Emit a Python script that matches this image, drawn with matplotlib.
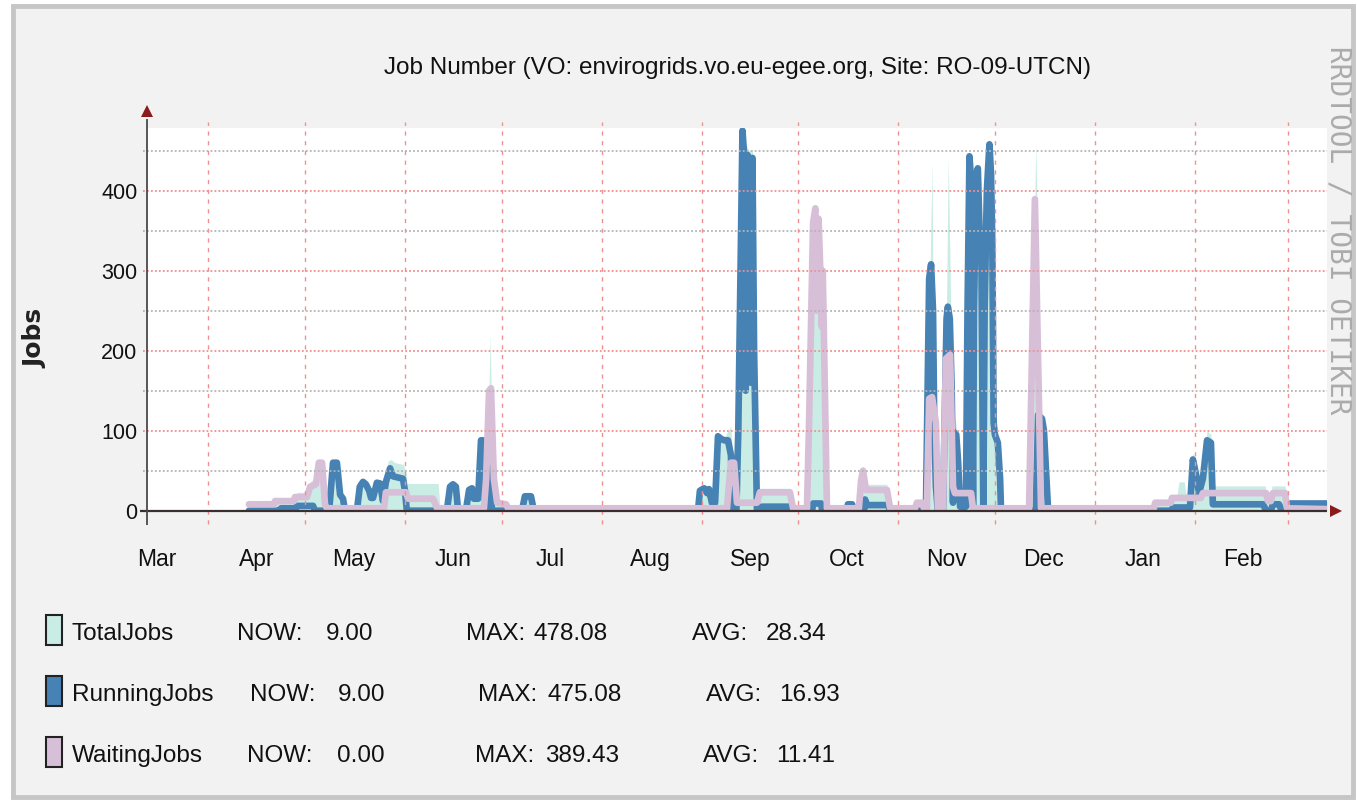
import datetime as dt
import matplotlib
matplotlib.use('Agg')
import matplotlib.pyplot as plt
import matplotlib.dates as mdates
from matplotlib.patches import Rectangle

plt.rcParams['font.family'] = ['Liberation Sans', 'DejaVu Sans']

# ---- data: (day counted from the left edge of the graph, jobs) ----
start = dt.datetime(2011, 3, 13)
n_days = 366

total = [(31.6, 8), (39.4, 8), (39.7, 12), (41.3, 12), (41.6, 15), (46.2, 15), (46.5, 23), (49.6, 23),
         (50.6, 36), (51.5, 39), (52.1, 33), (53.3, 60), (54.3, 62), (55.2, 8), (55.8, 3), (56.5, 3),
         (57.7, 63), (58.9, 63), (59.9, 23), (60.8, 18), (61.4, 3), (65.1, 3), (66.1, 33), (67.0, 39),
         (67.9, 36), (68.9, 28), (69.5, 19), (70.1, 19), (71.3, 38), (72.3, 37), (73.2, 15), (73.8, 40),
         (74.8, 62), (75.7, 64), (76.9, 60), (79.4, 58), (80.3, 50), (80.6, 34), (90.3, 34), (90.9, 3),
         (93.0, 3), (94.0, 33), (94.9, 36), (95.8, 33), (96.5, 3), (98.9, 3), (99.9, 29), (100.8, 31),
         (101.4, 18), (102.7, 18), (103.6, 91), (104.2, 91), (104.8, 3), (105.2, 40), (106.1, 150),
         (106.4, 222), (106.7, 160), (107.6, 40), (108.6, 10), (111.4, 8), (112.0, 3), (116.3, 3),
         (117.2, 21), (119.1, 21), (120.0, 3), (170.9, 3), (171.5, 28), (172.8, 31), (173.7, 25),
         (174.3, 30), (175.2, 13), (176.2, 13), (177.1, 96), (178.0, 93), (179.0, 91), (180.2, 100),
         (181.1, 105), (181.8, 62), (183.0, 10), (183.4, 105), (184.7, 478.1), (185.5, 460), (186.7, 450),
         (187.8, 451), (188.3, 210), (189.2, 10), (190.1, 28), (199.4, 28), (200.4, 3), (204.7, 3),
         (206.6, 300), (207.3, 378), (208.1, 370), (208.8, 315), (209.6, 299), (210.9, 3), (217.1, 3),
         (217.4, 11), (218.7, 11), (219.0, 3), (220.8, 3), (221.5, 45), (222.1, 56), (223.0, 33),
         (229.5, 33), (230.5, 3), (238.2, 3), (238.8, 10), (240.4, 10), (241.0, 3), (241.6, 3),
         (242.9, 300), (243.5, 438), (243.8, 250), (244.7, 140), (245.3, 3), (246.9, 3), (248.1, 290),
         (248.5, 442), (249.1, 300), (250.0, 40), (250.6, 120), (251.6, 82), (252.2, 27), (254.0, 27),
         (255.1, 446), (256.2, 27), (257.7, 431), (258.7, 340), (259.4, 10), (261.3, 461), (262.1, 335),
         (263.0, 100), (264.0, 88), (264.9, 3), (273.6, 3), (275.4, 395), (275.7, 460), (276.4, 300),
         (277.3, 120), (277.6, 118), (278.2, 103), (279.5, 3), (312.3, 3), (312.7, 10), (317.6, 10),
         (317.9, 16), (318.2, 20), (319.5, 20), (320.1, 36), (321.7, 36), (322.3, 20), (323.5, 20),
         (324.4, 72), (325.4, 62), (326.3, 40), (327.5, 62), (328.8, 100), (330.0, 95), (330.6, 31),
         (346.8, 31), (347.7, 12), (348.6, 12), (348.9, 31), (353.0, 31), (353.6, 12), (366.0, 12)]

running = [(31.6, 0), (40.9, 0), (41.6, 3), (46.2, 3), (46.5, 6), (51.5, 6), (52.1, 0), (56.5, 0),
           (57.7, 60), (58.9, 60), (59.9, 20), (60.8, 15), (61.4, 0), (65.1, 0), (66.0, 30), (67.0, 36),
           (67.9, 33), (68.9, 25), (69.5, 16), (70.1, 16), (71.3, 35), (72.3, 34), (73.2, 12), (74.1, 36),
           (75.4, 53), (76.3, 43), (79.4, 40), (80.0, 25), (80.6, 0), (93.0, 0), (94.0, 30), (94.9, 33),
           (95.8, 30), (96.5, 0), (98.9, 0), (99.9, 26), (100.8, 28), (101.4, 15), (102.7, 15),
           (103.6, 88), (104.2, 88), (104.8, 0), (105.8, 0), (106.4, 60), (107.0, 0), (116.3, 0),
           (117.2, 18), (119.1, 18), (120.0, 0), (170.9, 0), (171.5, 25), (172.8, 28), (173.7, 22),
           (174.3, 27), (175.2, 10), (176.2, 10), (177.1, 93), (178.0, 90), (179.0, 88), (180.2, 88),
           (181.1, 70), (181.8, 3), (182.8, 0), (183.4, 100), (184.7, 475.1), (185.2, 445), (185.7, 150),
           (186.2, 445), (186.8, 440), (187.3, 160), (187.8, 441), (188.3, 200), (189.2, 0), (190.8, 5),
           (199.4, 5), (200.1, 0), (206.3, 0), (206.6, 9), (209.1, 9), (209.4, 0), (217.1, 0), (217.4, 8),
           (218.7, 8), (219.0, 0), (222.4, 0), (222.7, 14), (223.3, 7), (229.8, 7), (230.5, 0),
           (241.6, 0), (242.6, 290), (243.2, 308), (243.8, 250), (244.2, 100), (244.7, 30), (245.3, 0),
           (246.9, 0), (248.0, 240), (248.4, 255), (249.0, 240), (249.6, 150), (250.0, 10), (250.3, 98),
           (251.0, 95), (251.6, 60), (252.2, 5), (254.0, 5), (254.5, 250), (255.1, 443), (255.5, 420),
           (255.9, 200), (256.2, 5), (256.5, 250), (257.2, 420), (257.7, 428), (258.3, 340), (258.8, 322),
           (259.1, 150), (259.4, 5), (259.8, 250), (260.5, 400), (261.3, 458), (261.8, 420), (262.2, 330),
           (262.6, 110), (263.0, 95), (263.9, 85), (264.6, 40), (264.9, 0), (275.7, 0), (276.4, 120),
           (277.6, 115), (278.2, 100), (279.5, 0), (317.9, 0), (318.2, 4), (323.5, 4), (324.4, 64),
           (325.4, 45), (326.3, 22), (327.5, 40), (328.8, 88), (330.0, 85), (330.6, 8), (346.2, 8),
           (347.1, 0), (348.6, 0), (349.2, 8), (351.1, 8), (352.0, 0), (354.2, 0), (354.5, 9), (366.0, 9)]

waiting = [(31.6, 8), (39.4, 8), (39.7, 12), (45.6, 12), (45.9, 17), (49.6, 17), (50.6, 30), (52.4, 33),
           (53.3, 60), (54.3, 60), (55.2, 8), (55.8, 3), (73.5, 3), (74.1, 23), (80.3, 23), (81.0, 15),
           (88.7, 15), (90.0, 3), (104.5, 3), (105.2, 40), (106.1, 150), (106.7, 153), (107.6, 40),
           (108.6, 10), (111.4, 8), (112.0, 3), (179.9, 3), (181.1, 60), (182.1, 60), (183.0, 10),
           (189.2, 10), (190.1, 23), (199.4, 23), (200.4, 3), (204.7, 3), (205.3, 100), (206.6, 360),
           (207.3, 378), (207.8, 250), (208.3, 365), (208.8, 305), (209.3, 230), (209.6, 300), (210.9, 3),
           (220.8, 3), (221.5, 38), (222.1, 50), (223.0, 26), (229.5, 26), (230.5, 3), (238.2, 3),
           (238.8, 10), (240.4, 10), (241.0, 3), (241.9, 3), (242.6, 140), (243.5, 142), (244.7, 110),
           (245.3, 3), (246.9, 3), (247.8, 190), (249.1, 195), (250.0, 30), (250.6, 22), (255.6, 22),
           (256.2, 3), (273.6, 3), (275.4, 389.4), (277.3, 3), (312.3, 3), (312.7, 10), (317.6, 10),
           (317.9, 16), (326.9, 16), (327.5, 22), (347.1, 22), (347.7, 12), (348.6, 12), (349.2, 22),
           (353.0, 22), (353.6, 3), (366.0, 2)]

legend_names = ['TotalJobs', 'RunningJobs', 'WaitingJobs']
legend_now = [9.00, 9.00, 0.00]
legend_max = [478.08, 475.08, 389.43]
legend_avg = [28.34, 16.93, 11.41]

title = 'Job Number (VO: envirogrids.vo.eu-egee.org, Site: RO-09-UTCN)'

c_total = '#c9ece4'
c_running = '#4682b4'
c_waiting = '#d8bfd8'
c_major = '#f09090'
c_minor = '#b4b4b4'
line_w = 4.8


def split(series):
    days, vals = zip(*series)
    return [start + dt.timedelta(days=d) for d in days], list(vals)


W, H = 1357, 800
fig = plt.figure(figsize=(W / 100, H / 100), dpi=100, facecolor='white')

# rrdtool style frame
fig.patches.append(Rectangle((13 / W, 3 / H), 1340 / W, 791 / H, transform=fig.transFigure,
                             facecolor='#f2f2f2', edgecolor='#c6c6c6', lw=3.5, zorder=-5))

ax = fig.add_axes([147 / W, 1 - 510.7 / H, 1180 / W, 382.7 / H])
ax.set_zorder(1)
ax.set_facecolor('white')
for s in ax.spines.values():
    s.set_visible(False)

end = start + dt.timedelta(days=n_days)
ax.set_xlim(start, end)
ax.set_ylim(0, 478.4)

x, y = split(total)
ax.fill_between(x, y, color=c_total, lw=0, zorder=2)
x, y = split(running)
ax.plot(x, y, color=c_running, lw=line_w, solid_joinstyle='round', solid_capstyle='round', zorder=3)
x, y = split(waiting)
ax.plot(x, y, color=c_waiting, lw=line_w, solid_joinstyle='round', solid_capstyle='round', zorder=4)

# grid on top, like rrdtool
left = start - dt.timedelta(days=1.3)
for v in [50, 150, 250, 350, 450]:
    ax.hlines(v, left, end, colors=c_minor, lw=1.3, linestyles=(0, (1, 1.2)), clip_on=False, zorder=5)
for v in [100, 200, 300, 400]:
    ax.hlines(v, left, end, colors=c_major, lw=1.3, linestyles=(0, (1, 1.2)), clip_on=False, zorder=5)

month_starts = [dt.datetime(2011 + (m - 1) // 12, (m - 1) % 12 + 1, 1) for m in range(4, 16)]
ax.vlines(month_starts, -16.5, 486, colors=c_major, lw=1.0, linestyles=(0, (3, 4)),
          clip_on=False, zorder=5)

# axes lines and arrows
ax.hlines(0, start - dt.timedelta(days=2.2), end, colors='#3a2e2e', lw=1.6, clip_on=False, zorder=6)
ax.vlines(start, -18, 490, colors='#4a4a4a', lw=1.3, clip_on=False, zorder=6)
ax.plot([1.008], [0], transform=ax.transAxes, marker='>', ms=9, color='#8b1a1a', mew=0,
        clip_on=False, zorder=7)
ax.plot([0], [1.045], transform=ax.transAxes, marker='^', ms=9, color='#8b1a1a', mew=0,
        clip_on=False, zorder=7)

ax.xaxis.set_major_locator(mdates.MonthLocator(bymonthday=16))
ax.xaxis.set_major_formatter(mdates.DateFormatter('%b'))
ax.tick_params(axis='x', length=0, pad=27, labelsize=16.5, colors='#111111')
ax.set_yticks([0, 100, 200, 300, 400])
ax.tick_params(axis='y', length=0, pad=7, labelsize=15.5, colors='#111111')


def fx(px):
    return px / W


def fy(py):
    return 1 - py / H


fig.text(fx(737), fy(68), title, fontsize=17.5, ha='center', va='center', color='#111111')
fig.text(fx(35), fy(338), 'Jobs', rotation=90, fontsize=18, fontweight='bold',
         family='DejaVu Sans', ha='center', va='center', color='#222222')
fig.text(fx(1339), fy(230), 'RRDTOOL / TOBI OETIKER', rotation=270, fontsize=20,
         family='DejaVu Sans Mono', ha='center', va='center', color='#ababab')

# legend with GPRINT values
base_y = [640, 701, 762]
now_lx = [237, 250, 247]
now_rx = [373, 385, 385]
max_lx = [466, 478, 475]
max_rx = [608, 622, 619]
avg_lx = [692, 706, 703]
avg_rx = [826, 840, 835]
colors = [c_total, c_running, c_waiting]
for i, name in enumerate(legend_names):
    yb = base_y[i]
    fig.patches.append(Rectangle((fx(46), fy(yb + 5)), 16 / W, 30 / H, transform=fig.transFigure,
                                 facecolor=colors[i], edgecolor='#222222', lw=1.5, zorder=3))
    kw = dict(fontsize=17.5, va='baseline', color='#111111')
    fig.text(fx(72), fy(yb), name, ha='left', **kw)
    fig.text(fx(now_lx[i]), fy(yb), 'NOW:', ha='left', **kw)
    fig.text(fx(now_rx[i]), fy(yb), '%.2f' % legend_now[i], ha='right', **kw)
    fig.text(fx(max_lx[i]), fy(yb), 'MAX:', ha='left', **kw)
    fig.text(fx(max_rx[i]), fy(yb), '%.2f' % legend_max[i], ha='right', **kw)
    fig.text(fx(avg_lx[i]), fy(yb), 'AVG:', ha='left', **kw)
    fig.text(fx(avg_rx[i]), fy(yb), '%.2f' % legend_avg[i], ha='right', **kw)

fig.savefig('out.png', dpi=100, facecolor=fig.get_facecolor())
